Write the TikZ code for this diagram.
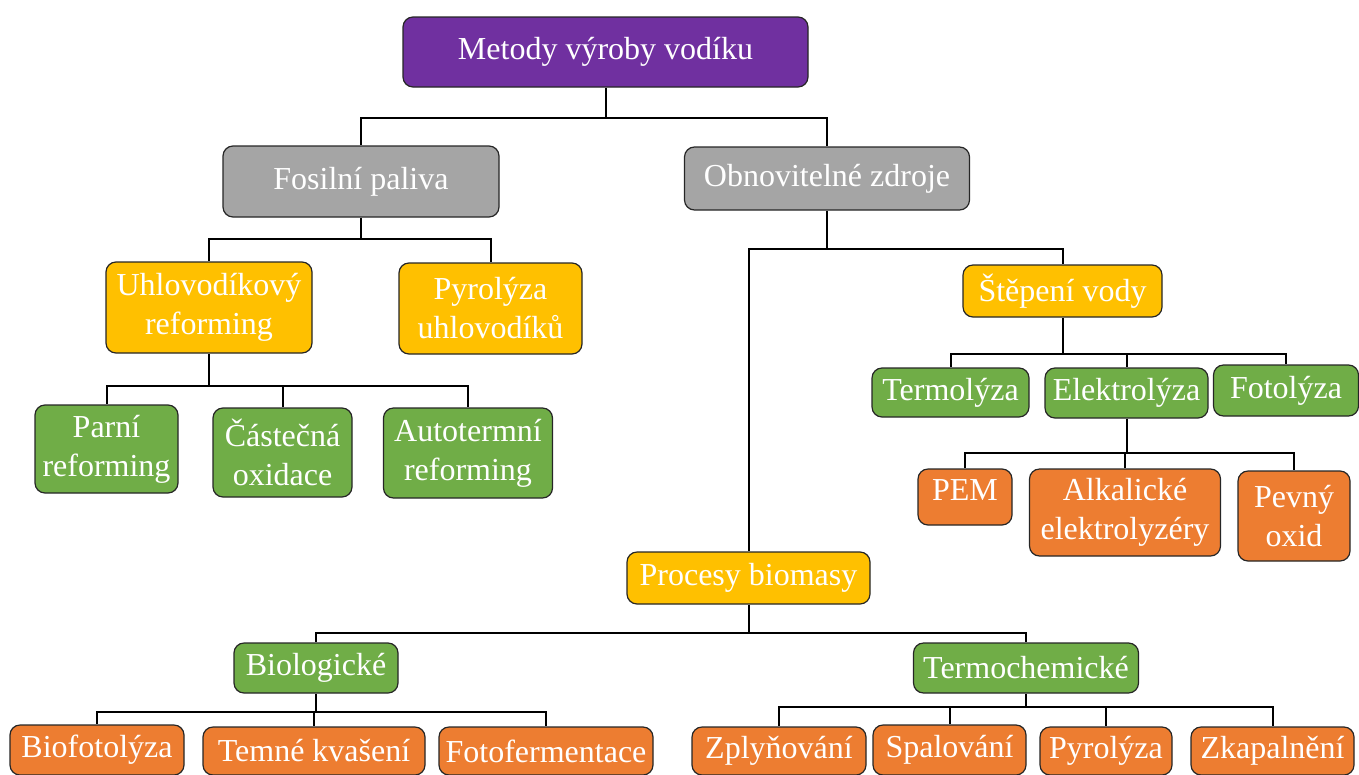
\documentclass[tikz,border=0pt]{standalone}
\usepackage{fontspec}
\setmainfont{Liberation Serif}
\definecolor{fialova}{HTML}{7030A0}
\definecolor{seda}{HTML}{A5A5A5}
\definecolor{zluta}{HTML}{FFC000}
\definecolor{zelena}{HTML}{70AD47}
\definecolor{oranzova}{HTML}{ED7D31}
\tikzset{
  box/.style={draw=black!85, line width=1.2pt, rounded corners=10pt, text=white,
    align=center, inner sep=2pt, font=\fontsize{32}{39}\selectfont},
  rootbox/.style={box, fill=fialova},
  greybox/.style={box, fill=seda},
  goldbox/.style={box, fill=zluta},
  greenbox/.style={box, fill=zelena},
  orangebox/.style={box, fill=oranzova},
  link/.style={draw=black, line width=2pt}
}
\begin{document}
\begin{tikzpicture}[x=1pt,y=-1pt]
\useasboundingbox (0,0) rectangle (1359,774);
% Knoten
\node[rootbox, minimum width=405pt, minimum height=70pt] (root) at (605.5,52) {Metody výroby vodíku};
\node[greybox, minimum width=276pt, minimum height=71pt] (fos) at (361,181.5) {Fosilní paliva};
\node[greybox, minimum width=285pt, minimum height=63pt] (obn) at (827,178.5) {Obnovitelné zdroje};
\node[goldbox, minimum width=206pt, minimum height=91pt] (uhl) at (209,307.5) {Uhlovodíkový\\reforming};
\node[goldbox, minimum width=183pt, minimum height=91pt] (pyruhl) at (490.5,308.5) {Pyrolýza\\uhlovodíků};
\node[greenbox, minimum width=143pt, minimum height=88pt] (parni) at (106.5,449) {Parní\\reforming};
\node[greenbox, minimum width=139pt, minimum height=89pt] (cast) at (282.5,452.5) {Částečná\\oxidace};
\node[greenbox, minimum width=169pt, minimum height=90pt] (auto) at (468,453) {Autotermní\\reforming};
\node[goldbox, minimum width=199pt, minimum height=52pt] (step) at (1062.5,291) {Štěpení vody};
\node[greenbox, minimum width=157pt, minimum height=49pt] (termol) at (950.5,392.5) {Termolýza};
\node[greenbox, minimum width=163pt, minimum height=50pt] (elek) at (1126.5,393) {Elektrolýza};
\node[greenbox, minimum width=145pt, minimum height=51pt] (fotol) at (1286,390.5) {Fotolýza};
\node[orangebox, minimum width=94pt, minimum height=56pt, text depth=14pt] (pem) at (965,497) {PEM};
\node[orangebox, minimum width=191pt, minimum height=87pt] (alk) at (1125,512.5) {Alkalické\\elektrolyzéry};
\node[orangebox, minimum width=112pt, minimum height=90pt] (pevny) at (1294,516) {Pevný\\oxid};
\node[goldbox, minimum width=243pt, minimum height=52pt] (proc) at (748.5,578) {Procesy biomasy};
\node[greenbox, minimum width=164pt, minimum height=50pt] (bio) at (316,668) {Biologické};
\node[greenbox, minimum width=225pt, minimum height=50pt] (termch) at (1026,668) {Termochemické};
\node[orangebox, minimum width=174pt, minimum height=50pt] (biofot) at (97,750) {Biofotolýza};
\node[orangebox, minimum width=222pt, minimum height=48pt] (temne) at (314,751) {Temné kvašení};
\node[orangebox, minimum width=214pt, minimum height=48pt] (fotof) at (546,751) {Fotofermentace};
\node[orangebox, minimum width=174pt, minimum height=48pt] (zply) at (779,751) {Zplyňování};
\node[orangebox, minimum width=153pt, minimum height=50pt] (spal) at (949.5,750) {Spalování};
\node[orangebox, minimum width=132pt, minimum height=48pt] (pyro) at (1106,751) {Pyrolýza};
\node[orangebox, minimum width=163pt, minimum height=48pt] (zkap) at (1272.5,751) {Zkapalnění};
% Verbindungen
\draw[link] (root.south) -- ++(0,30) coordinate (jroot);
\draw[link] (jroot) -| (fos.north);
\draw[link] (jroot) -| (obn.north);
\draw[link] (fos.south) -- ++(0,21) coordinate (jfos);
\draw[link] (jfos) -| (uhl.north);
\draw[link] (jfos) -| (pyruhl.north);
\draw[link] (uhl.south) -- ++(0,32) coordinate (juhl);
\draw[link] (juhl) -| (parni.north);
\draw[link] (juhl) -| (cast.north);
\draw[link] (juhl) -| (auto.north);
\draw[link] (obn.south) -- ++(0,38) coordinate (jobn);
\draw[link] (jobn) -| (step.north);
\draw[link] (jobn) -| (proc.north);
\draw[link] (step.south) -- ++(0,36) coordinate (jstep);
\draw[link] (jstep) -| (termol.north);
\draw[link] (jstep) -| (elek.north);
\draw[link] (jstep) -| (fotol.north);
\draw[link] (elek.south) -- ++(0,34) coordinate (jelek);
\draw[link] (jelek) -| (pem.north);
\draw[link] (jelek) -| (alk.north);
\draw[link] (jelek) -| (pevny.north);
\draw[link] (proc.south) -- ++(0,28) coordinate (jproc);
\draw[link] (jproc) -| (bio.north);
\draw[link] (jproc) -| (termch.north);
\draw[link] (bio.south) -- ++(0,18) coordinate (jbio);
\draw[link] (jbio) -| (biofot.north);
\draw[link] (jbio) -| (temne.north);
\draw[link] (jbio) -| (fotof.north);
\draw[link] (termch.south) -- ++(0,13) coordinate (jterm);
\draw[link] (jterm) -| (zply.north);
\draw[link] (jterm) -| (spal.north);
\draw[link] (jterm) -| (pyro.north);
\draw[link] (jterm) -| (zkap.north);
\end{tikzpicture}
\end{document}
